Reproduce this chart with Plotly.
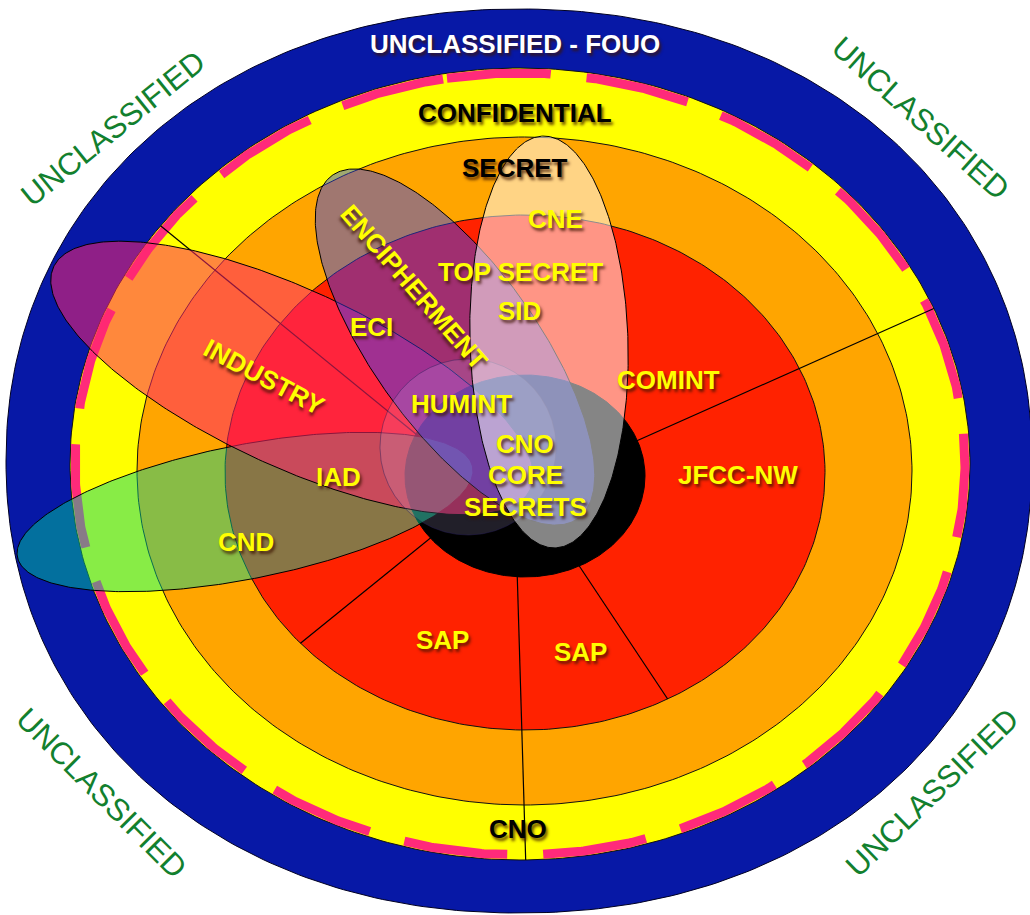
import numpy as np
import plotly.graph_objects as go

# ---------------- data: names / labels ----------------
ring_names = ["UNCLASSIFIED - FOUO", "CONFIDENTIAL", "SECRET", "TOP SECRET", "CORE"]
ring_colors = ["#0718A6", "#FFFF00", "#FFA500", "#FF2200", "#000000"]
# ring geometry (centre x, centre y, radius x, radius y, superellipse exponent) in picture pixels
ring_cx = [519, 520, 524.5, 525, 525]
ring_cy = [461, 464, 471, 472.5, 476]
ring_rx = [513, 450, 387.5, 300, 120]
ring_ry = [452, 396, 334, 257.5, 101]
ring_pw = [2.1, 2.0, 2.0, 2.0, 2.0]

overlay_names = ["CND", "INDUSTRY", "ENCIPHERMENT", "HUMINT", "CNE"]
overlay_fill = ["rgba(0,214,150,0.467)", "rgba(255,38,110,0.55)", "rgba(44,64,249,0.45)",
                "rgba(205,195,255,0.16)", "rgba(255,255,255,0.52)"]
overlay_cx = [245, 292, 455, 468, 549]
overlay_cy = [512, 378, 347, 447, 342]
overlay_a = [232, 263, 211, 88, 206]
overlay_b = [67, 88, 82, 88, 79]
overlay_ang = [-11.2, 25, 54.4, 0, 88.3]

# radial dividers: hub point, direction (deg, screen), ring index it ends on
div_hx = [460, 560, 515, 470, 560]
div_hy = [470, 475, 500, 506, 537]
div_ang = [219.2, -24.0, 88.3, 141.0, 56.4]
div_ring = [1, 1, 1, 3, 3]

# labels
lab_text = ["UNCLASSIFIED - FOUO", "CONFIDENTIAL", "SECRET", "CNE", "TOP SECRET", "SID",
            "ECI", "ENCIPHERMENT", "INDUSTRY", "HUMINT", "CNO", "CORE", "SECRETS",
            "COMINT", "JFCC-NW", "IAD", "CND", "SAP", "SAP", "CNO"]
lab_x = [515, 515, 515, 555, 520, 519, 371, 414, 264, 461, 525, 525, 525, 668, 738, 338, 246, 442, 580, 518]
lab_y = [44, 113, 168, 219, 272, 311, 327, 287, 377, 404, 444, 475, 507, 380, 475, 477, 542, 640, 652, 829]
lab_color = ["white", "black", "black"] + ["#FFFF00"] * 16 + ["black"]
lab_angle = [0, 0, 0, 0, 0, 0, 0, 49, 28, 0, 0, 0, 0, 0, 0, 0, 0, 0, 0, 0]

corner_text = ["UNCLASSIFIED"] * 4
corner_x = [113, 921, 102, 932]
corner_y = [128, 118, 793, 792]
corner_angle = [-39, 42, 45, -44]


def ellipse_xy(cx, cy, rx, ry, ang=0.0, t0=0.0, n=400, pw=2.0):
    t = np.radians(np.linspace(t0, t0 + 360, n + 1))
    c, s = np.cos(t), np.sin(t)
    e = 2.0 / pw
    x0 = rx * np.sign(c) * np.abs(c) ** e
    y0 = ry * np.sign(s) * np.abs(s) ** e
    a = np.radians(ang)
    return cx + x0 * np.cos(a) - y0 * np.sin(a), cy + x0 * np.sin(a) + y0 * np.cos(a)


def ray_hit(hx, hy, ang, cx, cy, rx, ry):
    dx, dy = np.cos(np.radians(ang)), np.sin(np.radians(ang))
    px, py = hx - cx, hy - cy
    A = (dx / rx) ** 2 + (dy / ry) ** 2
    B = 2 * (px * dx / rx ** 2 + py * dy / ry ** 2)
    C = (px / rx) ** 2 + (py / ry) ** 2 - 1
    t = (-B + np.sqrt(B * B - 4 * A * C)) / (2 * A)
    return hx + t * dx, hy + t * dy


fig = go.Figure()


def add_shape(x, y, fill, line_color="black", width=1.0, dash=None, filled=True):
    fig.add_trace(go.Scatter(
        x=x, y=y, mode="lines",
        fill="toself" if filled else None,
        fillcolor=fill if filled else None,
        line=dict(color=line_color, width=width, dash=dash),
        hoverinfo="skip", showlegend=False))


# rings (blue, yellow, pink dashes, orange, red), dividers, black core
for i in range(4):
    x, y = ellipse_xy(ring_cx[i], ring_cy[i], ring_rx[i], ring_ry[i], pw=ring_pw[i])
    add_shape(x, y, ring_colors[i], "#111111" if i else "#000022", 1.0)
    if i == 1:
        t0 = -np.degrees(np.arccos((447 - ring_cx[1]) / (ring_rx[1] - 5)))
        px, py = ellipse_xy(ring_cx[1], ring_cy[1], ring_rx[1] - 5, ring_ry[1] - 5, 0, t0, 1200)
        add_shape(px, py, None, "#FF2A7A", 9, dash="104px,36px", filled=False)

for hx, hy, ang, r in zip(div_hx, div_hy, div_ang, div_ring):
    ex, ey = ray_hit(hx, hy, ang, ring_cx[r], ring_cy[r], ring_rx[r], ring_ry[r])
    add_shape([hx, ex], [hy, ey], None, "black", 1.2, filled=False)

x, y = ellipse_xy(ring_cx[4], ring_cy[4], ring_rx[4], ring_ry[4])
add_shape(x, y, ring_colors[4], "black", 1.0)

# translucent overlay ellipses
for i in range(len(overlay_names)):
    x, y = ellipse_xy(overlay_cx[i], overlay_cy[i], overlay_a[i], overlay_b[i], overlay_ang[i])
    lc = "rgba(40,30,90,0.45)" if overlay_names[i] == "HUMINT" else "black"
    add_shape(x, y, overlay_fill[i], lc, 1.0)

FONT = "Liberation Sans, Arial, Helvetica, sans-serif"
ann = []
for t, x, y, c, a in zip(lab_text, lab_x, lab_y, lab_color, lab_angle):
    shadow = "2px 3px 3px rgba(60,20,0,0.75)"
    ann.append(dict(x=x, y=y, xref="x", yref="y", text="<b>%s</b>" % t, showarrow=False,
                    textangle=a, xanchor="center", yanchor="middle",
                    font=dict(family=FONT, size=26, color=c, shadow=shadow)))
for t, x, y, a in zip(corner_text, corner_x, corner_y, corner_angle):
    ann.append(dict(x=x, y=y, xref="x", yref="y", text=t, showarrow=False,
                    textangle=a, xanchor="center", yanchor="middle",
                    font=dict(family=FONT, size=31, color="#12802E")))

fig.update_layout(
    width=1030, height=915, margin=dict(l=0, r=0, t=0, b=0),
    paper_bgcolor="white", plot_bgcolor="white",
    xaxis=dict(range=[0, 1030], visible=False, fixedrange=True),
    yaxis=dict(range=[915, 0], visible=False, fixedrange=True),
    annotations=ann, showlegend=False)

fig.write_html("out.html", config=dict(displayModeBar=False),
               post_script="document.body.style.margin='0px';document.body.style.overflow='hidden';")
